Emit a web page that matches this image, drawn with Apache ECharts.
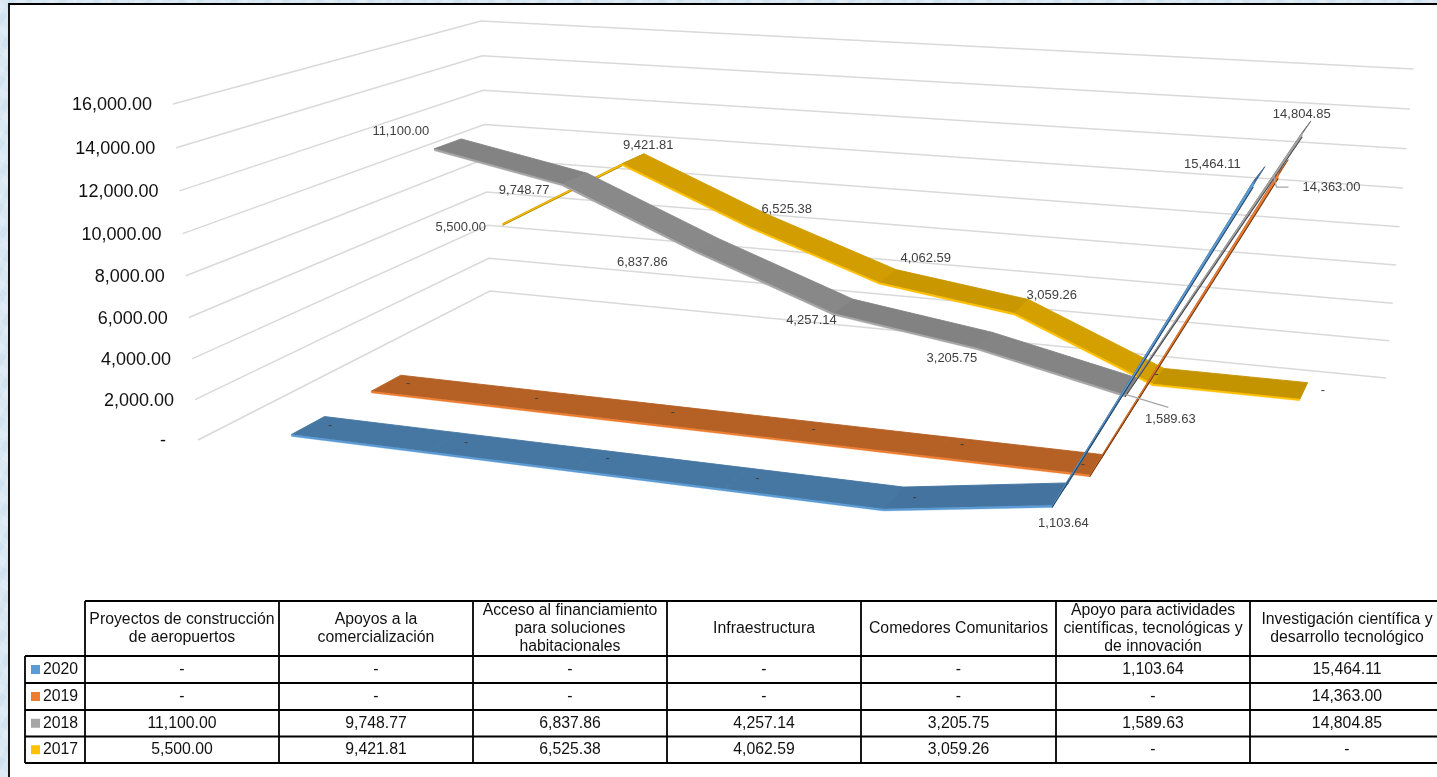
<!DOCTYPE html>
<html>
<head>
<meta charset="utf-8">
<style>
html,body{margin:0;padding:0;width:100%;height:100%;overflow:hidden;
  background-color:#d9e8f3;
  background-image:repeating-linear-gradient(37deg,rgba(255,255,255,.16) 0 7px,rgba(255,255,255,0) 7px 17px),repeating-linear-gradient(-61deg,rgba(150,190,220,.12) 0 6px,rgba(255,255,255,0) 6px 15px)}
#chart{position:absolute;left:0;top:0;width:1437px;height:777px}
</style>
<script src="https://cdn.jsdelivr.net/npm/echarts@6/dist/echarts.min.js"></script>
</head>
<body>
<div id="chart"></div>
<script>
// ---- data ----
const categories = [
  'Proyectos de construcción\nde aeropuertos',
  'Apoyos a la\ncomercialización',
  'Acceso al financiamiento\npara soluciones\nhabitacionales',
  'Infraestructura',
  'Comedores Comunitarios',
  'Apoyo para actividades\ncientíficas, tecnológicas y\nde innovación',
  'Investigación científica y\ndesarrollo tecnológico'
];
const years = ['2020', '2019', '2018', '2017'];
const values2020 = [0, 0, 0, 0, 0, 1103.64, 15464.11];
const values2019 = [0, 0, 0, 0, 0, 0, 14363.00];
const values2018 = [11100.00, 9748.77, 6837.86, 4257.14, 3205.75, 1589.63, 14804.85];
const values2017 = [5500.00, 9421.81, 6525.38, 4062.59, 3059.26, 0, 0];
const axisTicks = [0, 2000, 4000, 6000, 8000, 10000, 12000, 14000, 16000];

// ---- styles ----
const seriesValues = [values2020, values2019, values2018, values2017];
const baseColors = [[91,155,213],[237,125,49],[165,165,165],[255,192,0]];
// label nudges from each projected point, px
const labelShift = [
  [[22,0],[22,0],[21,-1],[21,0],[21,0],[3,29],[-47,-9]],
  [[22,0],[21,0],[22,-1],[21,0],[21,-2],[-14,0],[48,21]],
  [[-47,-12],[-51,12],[-65,18],[-32,14],[-33,18],[39,33],[-5,-12]],
  [[-54,9],[15,-13],[28,-11],[38,-18],[30,-11],[-2,-2],[19,0]]
];
const leaderLines = { '1,6': [[-10,9],[-7,21],[5,21]], '2,5': [[-6,8],[37,21]] };

const fmt = v => v === 0 ? '-' : v.toLocaleString('en-US',{minimumFractionDigits:2,maximumFractionDigits:2});

// ---- scene: perspective of the chart's box (X, Z, Y each 0..1) ----
const GRID = {left:0, top:0, width:1000, height:400};
const halfDepth = 0.05, thick = 0.006;
function project(X, Z, Y){
  const w = 1 - 0.1657*X + 0.258*Z - 0.0444*Y;
  return [(198 + 897.6*X + 418.4*Z - 32.7*Y)/w, (440 + 46.8*X - 73.9*Z - 340.6*Y)/w];
}
const unit = p => [(p[0]-GRID.left)/GRID.width, (GRID.top+GRID.height-p[1])/GRID.height];
const tone = (c,f) => `rgb(${c.map(v=>Math.round(v*f)).join(',')})`;
const poly = (pts, fill, z, lw) => ({type:'polygon', z2:z, shape:{points:pts}, style:{fill, stroke:fill, lineWidth:lw}});

function ribbonItem(sIdx){
  const vals = seriesValues[sIdx];
  const Zc = (sIdx + 0.5)/4;
  return function(params, api){
    const i = api.value(0), children = [];
    const a = unit(api.coord([i, vals[i]]));
    if (i < vals.length - 1){
      const b = unit(api.coord([i+1, vals[i+1]]));
      const z0 = Zc - halfDepth, z1 = Zc + halfDepth;
      const drop = (a[1]-b[1])/(b[0]-a[0]);
      const f = Math.max(0.68, Math.min(0.84, 0.765 + 0.05*drop));
      const t = thick*Math.sqrt(1 + Math.pow(drop*0.378, 2));
      children.push(poly([
        project(a[0],z0,a[1]), project(b[0],z0,b[1]),
        project(b[0],z1,b[1]), project(a[0],z1,a[1])
      ], tone(baseColors[sIdx],f), i*3, 0.9));
      const rising = drop < -1;
      const lowA = project(a[0],z0,a[1]-(rising?thick:t)), lowB = project(b[0],z0,b[1]-t);
      children.push(poly([
        project(a[0],z0,a[1]), project(b[0],z0,b[1]), lowB, lowA
      ], tone(baseColors[sIdx],1), i*3+1, 0.3));
      if (rising){
        const steep = drop < -3;
        children.push({type:'polyline', z2:i*3+2, shape:{points:[lowA,lowB]},
          style:{fill:'none', stroke:tone(baseColors[sIdx],steep?0.45:0.62), lineWidth:steep?1.1:0.7}});
      }
    }
    return {type:'group', children};
  };
}
function labelItem(sIdx){
  const vals = seriesValues[sIdx];
  const Zc = (sIdx + 0.5)/4;
  return function(params, api){
    const i = api.value(0);
    const a = unit(api.coord([i, vals[i]]));
    const p = project(a[0], Zc, a[1]);
    const s = labelShift[sIdx][i];
    const children = [];
    const lead = leaderLines[sIdx+','+i];
    if (lead) children.push({type:'polyline', shape:{points:lead.map(o=>[p[0]+o[0],p[1]+o[1]])}, style:{fill:'none',stroke:'#a6a6a6',lineWidth:1.2}});
    children.push({type:'text', style:{x:p[0]+s[0], y:p[1]+s[1], text:fmt(vals[i]), font:'13px "Liberation Sans"', fill:'#404040', align:'center', verticalAlign:'middle'}});
    return {type:'group', children};
  };
}
function gridItem(params, api){
  const v = api.value(1);
  const y = unit(api.coord([0, v]))[1];
  const s = project(0,0,y), m = project(0,1,y), e = project(1,1,y);
  return {type:'group', children:[
    {type:'polyline', shape:{points:[s,m,e]}, style:{fill:'none', stroke:'#d9d9d9', lineWidth:1.5}},
    {type:'text', style:{x:s[0]-(v===0?32:21), y:s[1]+1, text:v===0?'-':fmt(v), font:'18px "Liberation Sans"', fill:'#111', align:'right', verticalAlign:'middle'}}
  ]};
}

const series = [{type:'custom', coordinateSystem:'cartesian2d', renderItem:gridItem, silent:true, z:1, clip:false, animation:false,
  data: axisTicks.map(t=>[0,t])}];
[3,2,1,0].forEach(s=>{
  series.push({type:'custom', name:years[s], coordinateSystem:'cartesian2d', renderItem:ribbonItem(s), silent:true, z:5+(3-s), clip:false, animation:false,
    data: seriesValues[s].map((v,i)=>[i,v])});
});
[3,2,1,0].forEach(s=>{
  series.push({type:'custom', coordinateSystem:'cartesian2d', renderItem:labelItem(s), silent:true, z:20, clip:false, animation:false,
    data: seriesValues[s].map((v,i)=>[i,v])});
});

// ---- data table below the plot ----
const colX = [85,279,473,667,861,1056,1250,1444];
const rowY = [601,656,683,710,736.5,763];
const legendLeft = 25;
const g = [];
const line = (x1,y1,x2,y2,w) => g.push({type:'line', shape:{x1,y1,x2,y2}, style:{stroke:'#000', lineWidth:w||1.8}, z:30});
const tableFont = '15.8px "Liberation Sans"';
line(85,rowY[0],1437,rowY[0]);
line(legendLeft,rowY[1],1437,rowY[1]);
rowY.slice(2).forEach(y=>line(legendLeft,y,1437,y));
colX.slice(0,7).forEach(x=>line(x,rowY[0],x,rowY[5]));
line(legendLeft,rowY[1],legendLeft,rowY[5]);
categories.forEach((c,i)=>{
  g.push({type:'text', z:31, style:{x:(colX[i]+colX[i+1])/2, y:(rowY[0]+rowY[1])/2, text:c, font:tableFont, lineHeight:18, fill:'#111', align:'center', verticalAlign:'middle'}});
});
years.forEach((yr,r)=>{
  const cy = (rowY[r+1]+rowY[r+2])/2;
  g.push({type:'rect', z:31, shape:{x:31,y:cy-4.5,width:9,height:9}, style:{fill:tone(baseColors[r],1)}});
  g.push({type:'text', z:31, style:{x:43,y:cy,text:yr,font:tableFont,fill:'#111',align:'left',verticalAlign:'middle'}});
  seriesValues[r].forEach((v,i)=>{
    g.push({type:'text', z:31, style:{x:(colX[i]+colX[i+1])/2,y:cy,text:fmt(v),font:tableFont,fill:'#111',align:'center',verticalAlign:'middle'}});
  });
});
// white chart area with black frame (right and bottom edges run off the page)
g.push({type:'rect', z:-1, shape:{x:9,y:4,width:1440,height:790}, style:{fill:'#fff', stroke:'#000', lineWidth:1.8}});

const chart = echarts.init(document.getElementById('chart'));
chart.setOption({
  animation:false,
  backgroundColor:'transparent',
  grid:GRID,
  xAxis:{type:'category', data:categories, show:false},
  yAxis:{type:'value', min:0, max:16000, interval:2000, show:false},
  graphic:g,
  series
});
</script>
</body>
</html>
